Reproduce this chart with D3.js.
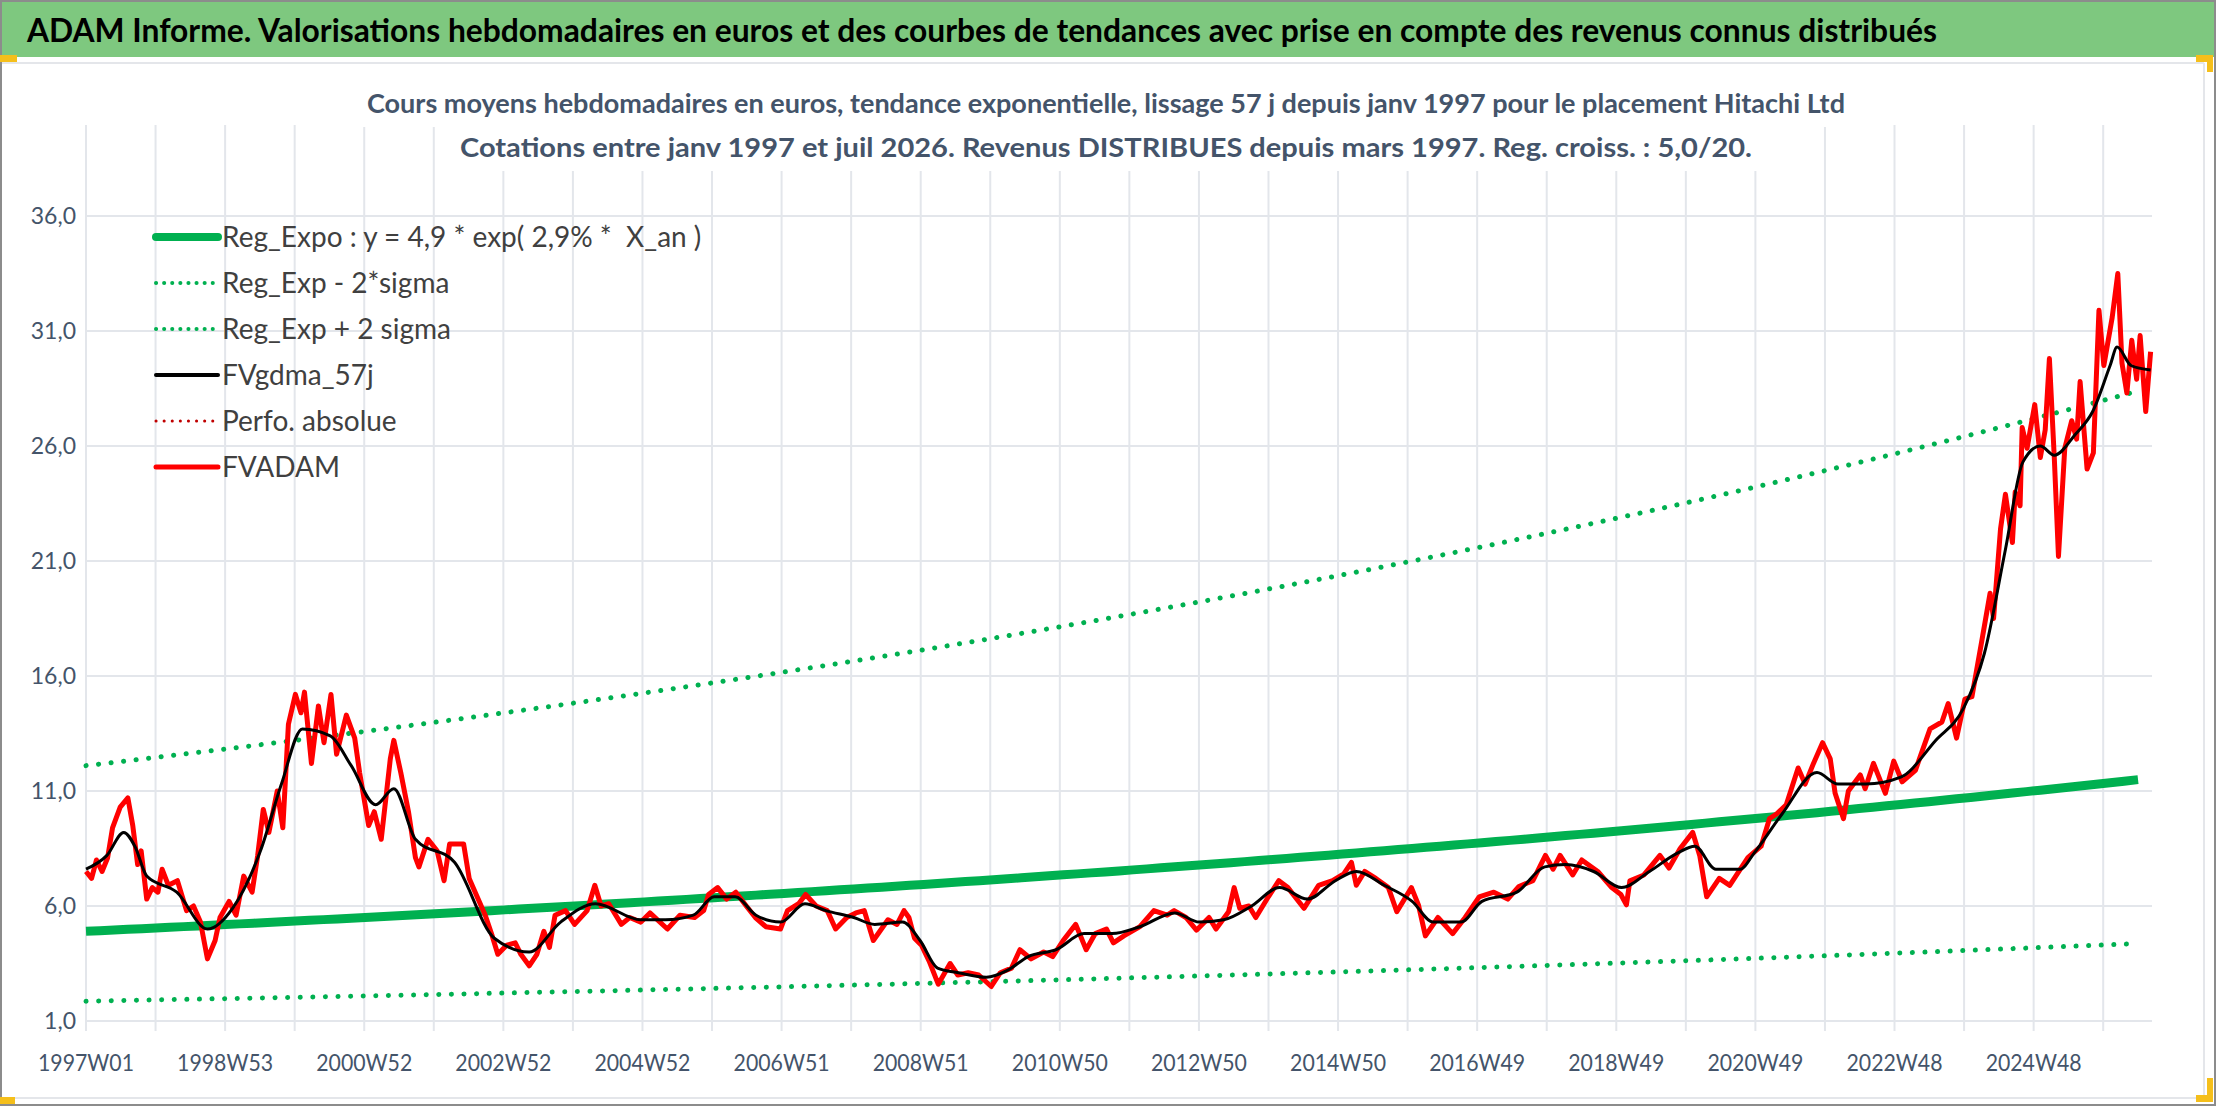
<!DOCTYPE html>
<html>
<head>
<meta charset="utf-8">
<script src="https://cdn.jsdelivr.net/npm/d3@7"></script>
<style>
    body { margin: 0; background: #fff; }
    svg { display: block; font-family: Lato, "Noto Sans", sans-serif; }
</style>
</head>
<body>
<svg id="chart" width="2216" height="1106"></svg>
<script>
// FVADAM weekly values: [year, value]
const fvadam = [
    [1997.0, 7.5], [1997.08, 7.2], [1997.15, 8.0], [1997.23, 7.5], [1997.31, 8.1], [1997.38, 9.4],
    [1997.49, 10.3], [1997.6, 10.7], [1997.67, 9.5], [1997.74, 7.8], [1997.79, 8.4], [1997.87, 6.3],
    [1997.95, 6.8], [1998.03, 6.6], [1998.09, 7.6], [1998.18, 6.9], [1998.31, 7.1], [1998.44, 5.8],
    [1998.54, 6.0], [1998.64, 5.3], [1998.74, 3.7], [1998.85, 4.5], [1998.92, 5.5], [1999.05, 6.2],
    [1999.15, 5.6], [1999.26, 7.3], [1999.38, 6.6], [1999.46, 8.2], [1999.54, 10.2], [1999.62, 9.2],
    [1999.74, 11.0], [1999.82, 9.4], [1999.9, 13.9], [2000.0, 15.2], [2000.08, 14.4], [2000.13, 15.3],
    [2000.23, 12.2], [2000.33, 14.7], [2000.41, 13.1], [2000.51, 15.2], [2000.59, 12.6], [2000.73, 14.3],
    [2000.85, 13.3], [2000.92, 11.8], [2001.05, 9.5], [2001.13, 10.1], [2001.23, 8.9], [2001.36, 12.4],
    [2001.41, 13.2], [2001.51, 11.8], [2001.62, 10.1], [2001.72, 8.1], [2001.77, 7.7], [2001.9, 8.9],
    [2002.03, 8.4], [2002.13, 7.1], [2002.21, 8.7], [2002.33, 8.7], [2002.41, 8.7], [2002.49, 7.2],
    [2002.59, 6.5], [2002.72, 5.6], [2002.82, 4.7], [2002.9, 3.9], [2003.03, 4.3], [2003.15, 4.4],
    [2003.23, 3.9], [2003.35, 3.4], [2003.46, 3.9], [2003.56, 4.9], [2003.64, 4.2], [2003.72, 5.6],
    [2003.87, 5.8], [2004.0, 5.2], [2004.18, 5.8], [2004.29, 6.9], [2004.38, 6.0], [2004.49, 6.1],
    [2004.67, 5.2], [2004.79, 5.5], [2004.95, 5.3], [2005.08, 5.7], [2005.33, 5.0], [2005.51, 5.6],
    [2005.72, 5.5], [2005.85, 5.8], [2005.92, 6.5], [2006.05, 6.8], [2006.18, 6.3], [2006.31, 6.6],
    [2006.46, 6.0], [2006.59, 5.5], [2006.74, 5.1], [2006.95, 5.0], [2007.05, 5.8], [2007.21, 6.1],
    [2007.31, 6.5], [2007.46, 6.0], [2007.62, 5.8], [2007.74, 5.0], [2007.9, 5.5], [2008.03, 5.7],
    [2008.15, 5.8], [2008.28, 4.5], [2008.49, 5.4], [2008.62, 5.2], [2008.72, 5.8], [2008.79, 5.5],
    [2008.87, 4.6], [2008.97, 4.3], [2009.08, 3.6], [2009.21, 2.6], [2009.38, 3.5], [2009.49, 3.0],
    [2009.64, 3.1], [2009.79, 3.0], [2009.97, 2.5], [2010.1, 3.1], [2010.26, 3.3], [2010.38, 4.1],
    [2010.54, 3.7], [2010.72, 4.0], [2010.85, 3.8], [2011.0, 4.5], [2011.18, 5.2], [2011.33, 4.1],
    [2011.46, 4.8], [2011.62, 5.0], [2011.72, 4.4], [2011.87, 4.7], [2012.1, 5.1], [2012.3, 5.8],
    [2012.49, 5.6], [2012.59, 5.8], [2012.76, 5.5], [2012.91, 4.95], [2013.09, 5.5], [2013.19, 5.0],
    [2013.37, 5.75], [2013.45, 6.8], [2013.53, 5.9], [2013.66, 6.0], [2013.76, 5.5], [2013.94, 6.4],
    [2014.09, 7.1], [2014.22, 6.8], [2014.45, 5.9], [2014.66, 6.9], [2014.86, 7.1], [2015.02, 7.4],
    [2015.13, 7.9], [2015.2, 6.9], [2015.32, 7.5], [2015.48, 7.2], [2015.66, 6.8], [2015.78, 5.75],
    [2015.99, 6.8], [2016.09, 6.05], [2016.19, 4.7], [2016.37, 5.5], [2016.58, 4.8], [2016.76, 5.5],
    [2016.96, 6.4], [2017.17, 6.6], [2017.37, 6.3], [2017.53, 6.85], [2017.73, 7.1], [2017.91, 8.2],
    [2018.02, 7.6], [2018.12, 8.2], [2018.3, 7.35], [2018.43, 8.0], [2018.66, 7.5], [2018.86, 6.8],
    [2018.99, 6.5], [2019.07, 6.05], [2019.12, 7.1], [2019.32, 7.35], [2019.55, 8.2], [2019.68, 7.65],
    [2019.84, 8.5], [2020.02, 9.2], [2020.12, 8.2], [2020.22, 6.4], [2020.4, 7.2], [2020.55, 6.9],
    [2020.81, 8.1], [2021.0, 8.6], [2021.12, 9.8], [2021.22, 10.0], [2021.36, 10.4], [2021.53, 12.0],
    [2021.63, 11.3], [2021.75, 12.2], [2021.88, 13.1], [2021.99, 12.4], [2022.06, 10.9], [2022.18, 9.8],
    [2022.25, 11.0], [2022.42, 11.7], [2022.49, 11.1], [2022.61, 12.2], [2022.78, 10.9], [2022.9, 12.3],
    [2023.02, 11.4], [2023.21, 11.9], [2023.42, 13.7], [2023.59, 14.0], [2023.68, 14.8], [2023.8, 13.3],
    [2023.92, 15.0], [2024.02, 15.1], [2024.16, 17.5], [2024.28, 19.6], [2024.33, 18.5], [2024.43, 22.4],
    [2024.5, 23.9], [2024.6, 21.8], [2024.64, 24.0], [2024.71, 23.4], [2024.74, 26.8], [2024.81, 25.9],
    [2024.92, 27.8], [2025.0, 25.5], [2025.07, 26.7], [2025.13, 29.8], [2025.2, 25.5], [2025.26, 21.2],
    [2025.35, 25.9], [2025.45, 27.1], [2025.52, 26.3], [2025.57, 28.8], [2025.67, 25.0], [2025.76, 25.7],
    [2025.84, 31.9], [2025.91, 29.5], [2026.03, 31.6], [2026.11, 33.5], [2026.17, 29.6], [2026.24, 28.3],
    [2026.31, 30.6], [2026.38, 28.9], [2026.43, 30.8], [2026.51, 27.5], [2026.58, 30.1]
];

// FVgdma_57j, the smoothed curve
const gdma = [
    [1997.0, 7.6], [1997.3, 8.2], [1997.54, 9.2], [1997.7, 8.6], [1997.87, 7.3], [1998.3, 6.6],
    [1998.74, 5.0], [1999.1, 5.9], [1999.5, 8.4], [1999.8, 11.3], [2000.1, 13.7], [2000.5, 13.4],
    [2000.8, 12.1], [2001.15, 10.4], [2001.41, 11.1], [2001.72, 8.9], [2002.28, 7.9], [2002.85, 4.6],
    [2003.35, 4.0], [2003.8, 5.3], [2004.3, 6.1], [2004.95, 5.4], [2005.3, 5.4], [2005.7, 5.6],
    [2006.0, 6.4], [2006.3, 6.4], [2006.6, 5.6], [2006.95, 5.3], [2007.3, 6.1], [2007.6, 5.8],
    [2008.0, 5.5], [2008.3, 5.2], [2008.7, 5.3], [2008.95, 4.5], [2009.2, 3.3], [2009.5, 3.1],
    [2009.9, 2.9], [2010.2, 3.2], [2010.5, 3.8], [2010.9, 4.1], [2011.3, 4.8], [2011.7, 4.8],
    [2012.1, 5.1], [2012.6, 5.7], [2012.95, 5.3], [2013.3, 5.4], [2013.7, 6.0], [2014.1, 6.8],
    [2014.5, 6.3], [2014.9, 7.1], [2015.2, 7.5], [2015.6, 6.9], [2016.0, 6.2], [2016.3, 5.3],
    [2016.7, 5.3], [2017.0, 6.2], [2017.5, 6.6], [2017.9, 7.7], [2018.2, 7.8], [2018.6, 7.5],
    [2019.0, 6.8], [2019.4, 7.5], [2019.8, 8.3], [2020.05, 8.6], [2020.35, 7.6], [2020.7, 7.6],
    [2020.9, 8.3], [2021.3, 10.0], [2021.8, 11.8], [2022.1, 11.3], [2022.5, 11.3], [2023.0, 11.6],
    [2023.5, 13.2], [2023.9, 14.6], [2024.2, 17.0], [2024.5, 21.5], [2024.75, 25.3], [2025.0, 26.0],
    [2025.2, 25.6], [2025.5, 26.5], [2025.75, 27.5], [2026.0, 29.5], [2026.1, 30.3], [2026.3, 29.5],
    [2026.58, 29.3]
];

// exponential regression from the legend: y = 4,9 * exp(2,9% * X_an)
const regA = 4.9, regB = 0.029, lowK = 0.38, highK = 2.47;
const regYears = d3.range(0, 148).map(i => 1997 + i * 0.2);
const reg = regYears.map(t => [t, regA * Math.exp(regB * (t - 1997))]);
const regLow = reg.map(([t, v]) => [t, v * lowK]);
const regHigh = reg.map(([t, v]) => [t, v * highK]);

const svg = d3.select('#chart');
const W = 2216, H = 1106;
const m = { left: 86, right: 2152, top: 216, bottom: 1021 };

const x = d3.scaleLinear().domain([1997, 2026.6]).range([m.left, m.right]);
const y = d3.scaleLinear().domain([1, 36]).range([m.bottom, m.top]);

// frame + title bar
svg.append('rect').attr('x', 1).attr('y', 1).attr('width', W - 2).attr('height', H - 2)
    .attr('fill', '#fff').attr('stroke', '#8c8c8c').attr('stroke-width', 2);
svg.append('rect').attr('x', 2).attr('y', 2).attr('width', W - 4).attr('height', 55).attr('fill', '#7ec87f');
svg.append('line').attr('x1', 2).attr('x2', W - 12).attr('y1', 63).attr('y2', 63)
    .attr('stroke', '#e4e6ea').attr('stroke-width', 2);
svg.append('line').attr('x1', W - 12).attr('x2', W - 12).attr('y1', 63).attr('y2', H - 8)
    .attr('stroke', '#e4e6ea').attr('stroke-width', 2);
svg.append('line').attr('x1', 2).attr('x2', W - 12).attr('y1', H - 8).attr('y2', H - 8)
    .attr('stroke', '#e4e6ea').attr('stroke-width', 2);
svg.append('rect').attr('x', 0).attr('y', 55).attr('width', 17).attr('height', 7).attr('fill', '#f5bf1b');
svg.append('rect').attr('x', W - 20).attr('y', 55).attr('width', 17).attr('height', 7).attr('fill', '#f5bf1b');
svg.append('rect').attr('x', W - 9).attr('y', 55).attr('width', 6).attr('height', 17).attr('fill', '#f5bf1b');
svg.append('rect').attr('x', W - 20).attr('y', H - 11).attr('width', 17).attr('height', 7).attr('fill', '#f5bf1b');
svg.append('rect').attr('x', W - 9).attr('y', H - 28).attr('width', 6).attr('height', 20).attr('fill', '#f5bf1b');
svg.append('rect').attr('x', 0).attr('y', H - 9).attr('width', 15).attr('height', 7).attr('fill', '#f5bf1b');

svg.append('text').attr('x', 27).attr('y', 42)
    .attr('font-size', 33).attr('font-weight', 700).attr('fill', '#000')
    .attr('textLength', 1910).attr('lengthAdjust', 'spacingAndGlyphs')
    .text('ADAM Informe. Valorisations hebdomadaires en euros et des courbes de tendances avec prise en compte des revenus connus distribués');

// grid
const weekStep = 364 / 365.25;
const gridYears = d3.range(0, 30).map(k => 1997 + k * weekStep);
const labels = ['1997W01', '1998W53', '2000W52', '2002W52', '2004W52', '2006W51', '2008W51',
    '2010W50', '2012W50', '2014W50', '2016W49', '2018W49', '2020W49', '2022W48', '2024W48'];

svg.append('g').selectAll('line').data(gridYears).join('line')
    .attr('x1', d => x(d)).attr('x2', d => x(d))
    .attr('y1', 125).attr('y2', m.bottom + 10)
    .attr('stroke', '#e3e6eb').attr('stroke-width', 2);

const yTicks = d3.range(1, 37, 5);
svg.append('g').selectAll('line').data(yTicks).join('line')
    .attr('x1', m.left).attr('x2', m.right)
    .attr('y1', d => y(d)).attr('y2', d => y(d))
    .attr('stroke', '#e3e6eb').attr('stroke-width', 2);

svg.append('g').selectAll('text').data(yTicks).join('text')
    .attr('x', 76).attr('y', d => y(d) + 8)
    .attr('text-anchor', 'end').attr('font-size', 23).attr('fill', '#44546a')
    .text(d => d3.format('.1f')(d).replace('.', ','));

svg.append('g').selectAll('text').data(labels).join('text')
    .attr('x', (d, i) => x(1997 + 2 * i * weekStep)).attr('y', 1071)
    .attr('text-anchor', 'middle').attr('font-size', 23).attr('fill', '#44546a')
    .attr('textLength', 96).attr('lengthAdjust', 'spacingAndGlyphs')
    .text(d => d);

// subtitle, white behind like the Excel title box
const sub = [
    ['Cours moyens hebdomadaires en euros, tendance exponentielle, lissage 57 j depuis janv 1997 pour le placement Hitachi Ltd', 113, 1478],
    ['Cotations entre janv 1997 et juil 2026. Revenus DISTRIBUES depuis mars 1997. Reg. croiss. : 5,0/20.', 157, 1292]
];
sub.forEach(([t, yy, len]) => {
    svg.append('rect').attr('x', 1106 - len / 2 - 8).attr('y', yy - 30).attr('width', len + 16).attr('height', 44).attr('fill', '#fff');
    svg.append('text').attr('x', 1106).attr('y', yy).attr('text-anchor', 'middle')
        .attr('font-size', 27).attr('font-weight', 700).attr('fill', '#44546a')
        .attr('textLength', len).attr('lengthAdjust', 'spacingAndGlyphs').text(t);
});

// series
const line = d3.line().x(d => x(d[0])).y(d => y(d[1]));
const plot = svg.append('g');
const dotted = sel => sel.attr('stroke-dasharray', '0.1 12.5').attr('stroke-linecap', 'round');

plot.append('path').datum(regLow).attr('d', line).attr('fill', 'none')
    .attr('stroke', '#00b050').attr('stroke-width', 5).call(dotted);
plot.append('path').datum(regHigh).attr('d', line).attr('fill', 'none')
    .attr('stroke', '#00b050').attr('stroke-width', 5).call(dotted);
plot.append('path').datum(reg).attr('d', line).attr('fill', 'none')
    .attr('stroke', '#00b050').attr('stroke-width', 9);
plot.append('path').datum(fvadam).attr('d', line).attr('fill', 'none')
    .attr('stroke', '#ff0000').attr('stroke-width', 5).attr('stroke-linejoin', 'round');
plot.append('path').datum(gdma).attr('d', d3.line().curve(d3.curveMonotoneX).x(d => x(d[0])).y(d => y(d[1])))
    .attr('fill', 'none').attr('stroke', '#000').attr('stroke-width', 3);

// legend
const legend = [
    { name: 'Reg_Expo : y = 4,9 * exp( 2,9% *\u00a0\u00a0X_an )', color: '#00b050', w: 8, dot: false },
    { name: 'Reg_Exp - 2*sigma', color: '#00b050', w: 4, dot: true },
    { name: 'Reg_Exp + 2 sigma', color: '#00b050', w: 4, dot: true },
    { name: 'FVgdma_57j', color: '#000', w: 4, dot: false },
    { name: 'Perfo. absolue', color: '#c00000', w: 3, dot: true },
    { name: 'FVADAM', color: '#ff0000', w: 5, dot: false }
];
const lg = svg.append('g').selectAll('g').data(legend).join('g')
    .attr('transform', (d, i) => `translate(156,${237 + i * 46})`);
lg.append('line').attr('x1', 0).attr('x2', 62).attr('stroke', d => d.color)
    .attr('stroke-width', d => d.w).attr('stroke-linecap', 'round')
    .attr('stroke-dasharray', d => d.dot ? '0.1 8' : null);
lg.append('text').attr('x', 66).attr('y', 10).attr('font-size', 28).attr('fill', '#404040')
    .text(d => d.name);
</script>
</body>
</html>
